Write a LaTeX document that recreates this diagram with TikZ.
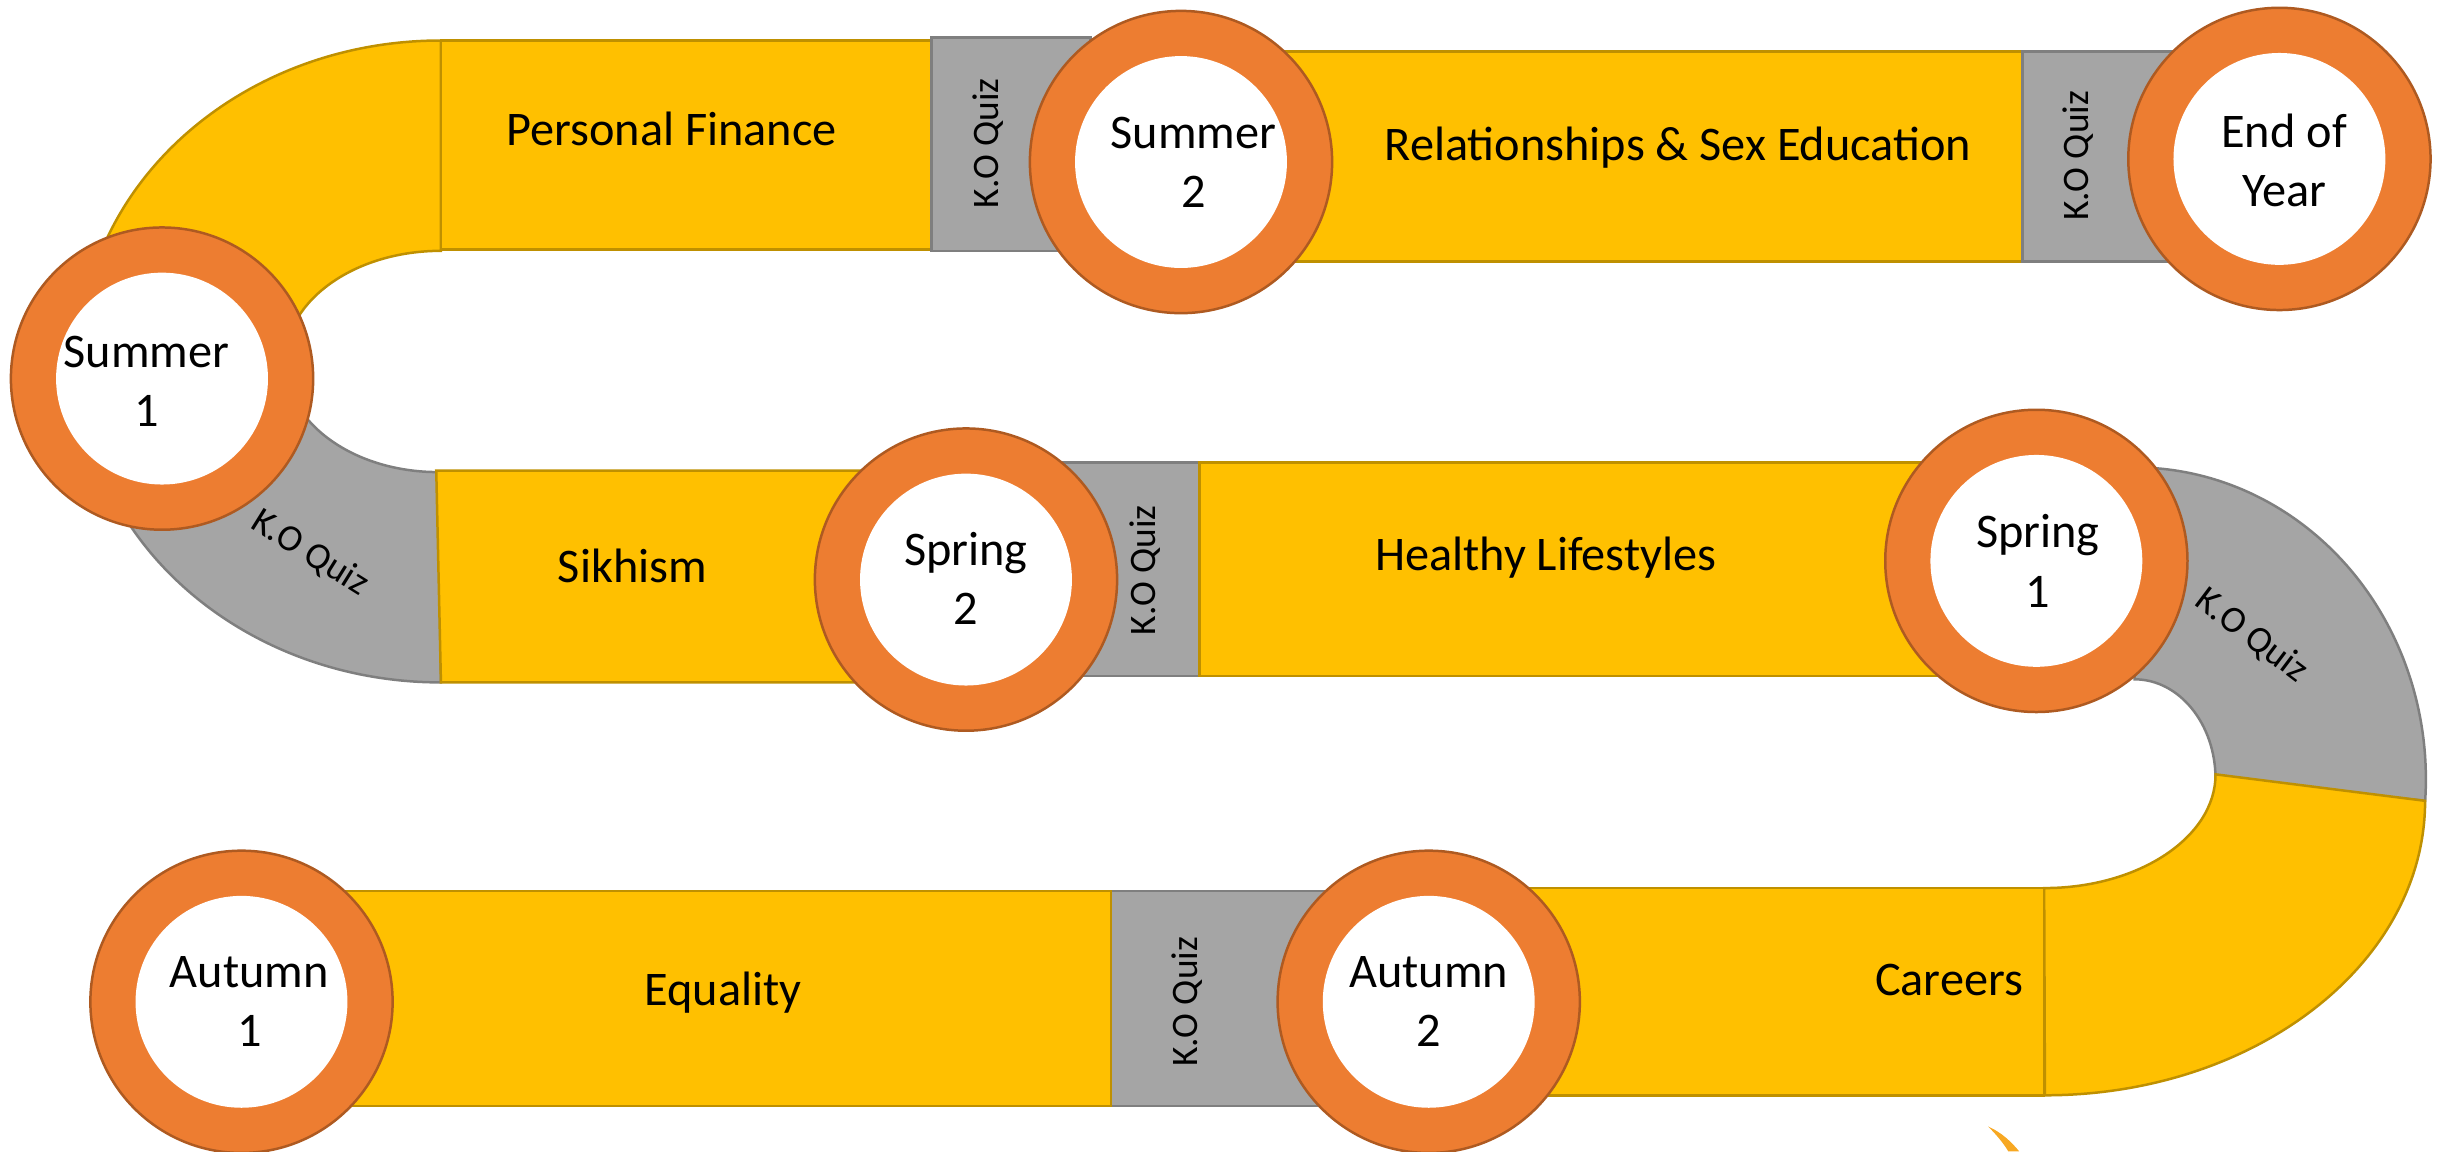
\documentclass[tikz,border=0pt]{standalone}
\usepackage{fontspec}
\setmainfont{Carlito}
\definecolor{yel}{HTML}{FFC000}
\definecolor{yeld}{HTML}{BF9000}
\definecolor{gry}{HTML}{A5A5A5}
\definecolor{gryd}{HTML}{7F7F7F}
\definecolor{org}{HTML}{ED7D31}
\definecolor{orgd}{HTML}{AE5A21}
\definecolor{logo}{HTML}{F7A823}
\tikzset{
  ypart/.style={fill=yel,draw=yeld,line width=0.8pt},
  gpart/.style={fill=gry,draw=gryd,line width=0.8pt},
  ring/.style={circle,fill=org,draw=orgd,line width=0.8pt,minimum size=97pt,inner sep=0pt},
  hole/.style={circle,fill=white,minimum size=68pt,inner sep=0pt},
  lbl/.style={font=\fontsize{15.5}{19}\selectfont,align=center,inner sep=0pt},
  ko/.style={font=\fontsize{12}{14}\selectfont,inner sep=0pt}
}
\begin{document}
\begin{tikzpicture}[x=0.5pt,y=0.5pt]
\useasboundingbox (0,0) rectangle (1568,739);
% ---- top-left U-turn
\path[ypart] (283,713) arc[start angle=90,end angle=180,x radius=232,y radius=206]
  -- (183,507) arc[start angle=180,end angle=90,x radius=100,y radius=71] -- cycle;
\path[gpart] (51,507) arc[start angle=180,end angle=270,x radius=232,y radius=206]
  -- (281,436) arc[start angle=270,end angle=180,x radius=98,y radius=71] -- cycle;
% ---- top row
\path[ypart] (283,579) rectangle (598,713);
\path[gpart] (598,578) rectangle (700,715);
\path[ypart] (800,571) rectangle (1298,706);
\path[gpart] (1298,571) rectangle (1420,706);
% ---- middle row
\path[ypart] (283,301) -- (280,437) -- (600,437) -- (600,301) -- cycle;
\path[gpart] (640,305) rectangle (770,442);
\path[ypart] (770,305) rectangle (1330,442);
% ---- right U-turn
\path[gpart] (1370,439) arc[start angle=90,end angle=-4,x radius=187,y radius=200]
  -- (1422,239) arc[start angle=0,end angle=90,x radius=52,y radius=64] -- cycle;
\path[ypart] (1556.5,225) arc[start angle=0,end angle=-90,x radius=244,y radius=189]
  -- (1312,169) arc[start angle=-90,end angle=0,x radius=110,y radius=73] -- cycle;
% ---- bottom row
\path[ypart] (960,36) rectangle (1312,169);
\path[gpart] (713,29) rectangle (860,167);
\path[ypart] (200,29) rectangle (713,167);
% ---- circles
\node[ring] (su1) at (104,496) {}; \node[hole] (su1h) at (su1) {};
\node[ring] (su2) at (758,635) {}; \node[hole] (su2h) at (su2) {};
\node[ring] (eoy) at (1463,637) {}; \node[hole] (eoyh) at (eoy) {};
\node[ring] (sp2) at (620,367) {}; \node[hole] (sp2h) at (sp2) {};
\node[ring] (sp1) at (1307,379) {}; \node[hole] (sp1h) at (sp1) {};
\node[ring] (au1) at (155,96) {}; \node[hole] (au1h) at (au1) {};
\node[ring] (au2) at (917,96) {}; \node[hole] (au2h) at (au2) {};
% ---- logo fragment
\path[fill=logo] (1276,16) .. controls (1285,12) and (1291,6) .. (1296,0)
  -- (1289,0) .. controls (1286,5) and (1282,10) .. (1276,16) -- cycle;
% ---- texts
\node[lbl] (t1) at (431,656) {Personal Finance};
\node[ko,rotate=90] (k1) at (634,647) {K.O Quiz};
\node[lbl] (t2) at (766,635) {Summer\\2};
\node[lbl] (t3) at (1077,644) {Relationships \& Sex Education};
\node[ko,rotate=90] (k2) at (1334,639) {K.O Quiz};
\node[lbl] (t4) at (1466,636) {End of\\Year};
\node[lbl] (t5) at (94,494) {Summer\\1};
\node[ko,rotate=-32] (k3) at (199,384) {K.O Quiz};
\node[lbl] (t6) at (406,376) {Sikhism};
\node[lbl] (t7) at (620,368) {Spring\\2};
\node[ko,rotate=90] (k4) at (735,373) {K.O Quiz};
\node[lbl] (t8) at (992,381) {Healthy Lifestyles};
\node[lbl] (t9) at (1308,379) {Spring\\1};
\node[ko,rotate=-37] (k5) at (1445,331) {K.O Quiz};
\node[lbl] (t10) at (160,96) {Autumn\\1};
\node[lbl] (t11) at (464,102) {Equality};
\node[ko,rotate=90] (k6) at (762,96) {K.O Quiz};
\node[lbl] (t12) at (917,96) {Autumn\\2};
\node[lbl] (t13) at (1251,110) {Careers};
\end{tikzpicture}
\end{document}
